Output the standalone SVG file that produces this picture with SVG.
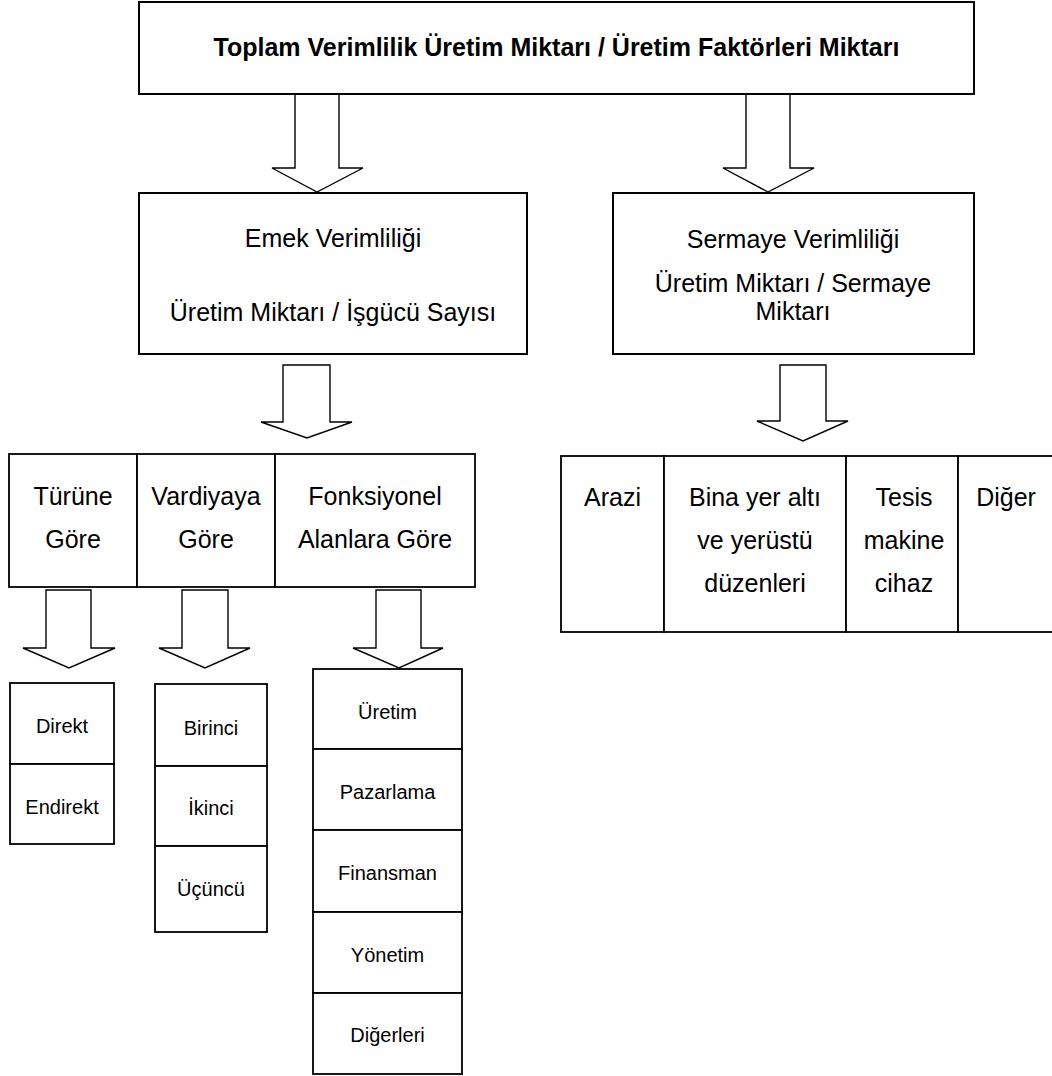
<svg xmlns="http://www.w3.org/2000/svg" width="1052" height="1076" viewBox="0 0 1052 1076">
<style>
.box{fill:#fff;stroke:#000;stroke-width:2}
.cell{fill:#fff;stroke:#000;stroke-width:1.8}
.arrow{fill:#fff;stroke:#000;stroke-width:1.4;stroke-linejoin:miter}
text{font-family:"Liberation Sans",Arial,sans-serif;fill:#000;text-anchor:middle}
.t1{font-size:25px;font-weight:bold}
.t2{font-size:25px}
.t3{font-size:20px}
</style>
<rect width="1052" height="1076" fill="#fff"/>
<g id="connectors">
<polygon class="arrow" points="295,94 295,168 272,168 317,192 363,168 339,168 339,94"/>
<polygon class="arrow" points="746,94 746,168 723,168 768,192 814,168 790,168 790,94"/>
<polygon class="arrow" points="283,365 283,422 261,422 307,438 352,422 330,422 330,365"/>
<polygon class="arrow" points="780,365 780,421 757,421 803,441 848,421 826,421 826,365"/>
<polygon class="arrow" points="46,590 46,648 23,648 69,668 115,648 91,648 91,590"/>
<polygon class="arrow" points="182,590 182,648 159,648 205,668 250,648 228,648 228,590"/>
<polygon class="arrow" points="376,590 376,648 353,648 399,668 443,648 421,648 421,590"/>
</g>
<g id="node-toplam">
<rect class="box" x="139" y="2" width="835" height="92"/>
<text class="t1" x="556.5" y="56">Toplam Verimlilik Üretim Miktarı / Üretim Faktörleri Miktarı</text>
</g>
<g id="node-emek">
<rect class="box" x="139" y="193" width="388" height="161"/>
<text class="t2" x="333" y="247">Emek Verimliliği</text>
<text class="t2" x="333" y="321">Üretim Miktarı / İşgücü Sayısı</text>
</g>
<g id="node-sermaye">
<rect class="box" x="613" y="193" width="361" height="161"/>
<text class="t2" x="793" y="248">Sermaye Verimliliği</text>
<text class="t2" x="793" y="292">Üretim Miktarı / Sermaye</text>
<text class="t2" x="793" y="320">Miktarı</text>
</g>
<g id="node-turune">
<rect class="cell" x="9" y="454" width="128" height="133"/>
<text class="t2" x="73" y="505">Türüne</text>
<text class="t2" x="73" y="548">Göre</text>
</g>
<g id="node-vardiyaya">
<rect class="cell" x="137" y="454" width="138" height="133"/>
<text class="t2" x="206" y="505">Vardiyaya</text>
<text class="t2" x="206" y="548">Göre</text>
</g>
<g id="node-fonksiyonel">
<rect class="cell" x="275" y="454" width="200" height="133"/>
<text class="t2" x="375" y="505">Fonksiyonel</text>
<text class="t2" x="375" y="548">Alanlara Göre</text>
</g>
<g id="node-arazi">
<rect class="cell" x="561" y="456" width="103" height="176"/>
<text class="t2" x="612.5" y="506">Arazi</text>
</g>
<g id="node-bina">
<rect class="cell" x="664" y="456" width="182" height="176"/>
<text class="t2" x="755" y="506">Bina yer altı</text>
<text class="t2" x="755" y="549">ve yerüstü</text>
<text class="t2" x="755" y="592">düzenleri</text>
</g>
<g id="node-tesis">
<rect class="cell" x="846" y="456" width="112" height="176"/>
<text class="t2" x="904" y="506">Tesis</text>
<text class="t2" x="904" y="549">makine</text>
<text class="t2" x="904" y="592">cihaz</text>
</g>
<g id="node-diger">
<rect class="cell" x="958" y="456" width="96" height="176"/>
<text class="t2" x="1006" y="506">Diğer</text>
</g>
<g id="node-direkt">
<rect class="cell" x="10" y="683" width="104" height="81"/>
<text class="t3" x="62" y="733">Direkt</text>
</g>
<g id="node-endirekt">
<rect class="cell" x="10" y="764" width="104" height="80"/>
<text class="t3" x="62" y="814">Endirekt</text>
</g>
<g id="node-birinci">
<rect class="cell" x="155" y="684" width="112" height="82"/>
<text class="t3" x="211" y="735">Birinci</text>
</g>
<g id="node-ikinci">
<rect class="cell" x="155" y="766" width="112" height="80"/>
<text class="t3" x="211" y="815">İkinci</text>
</g>
<g id="node-ucuncu">
<rect class="cell" x="155" y="846" width="112" height="86"/>
<text class="t3" x="211" y="896">Üçüncü</text>
</g>
<g id="node-uretim">
<rect class="cell" x="313" y="669" width="149" height="80"/>
<text class="t3" x="387.5" y="719">Üretim</text>
</g>
<g id="node-pazarlama">
<rect class="cell" x="313" y="749" width="149" height="81"/>
<text class="t3" x="387.5" y="799">Pazarlama</text>
</g>
<g id="node-finansman">
<rect class="cell" x="313" y="830" width="149" height="82"/>
<text class="t3" x="387.5" y="880">Finansman</text>
</g>
<g id="node-yonetim">
<rect class="cell" x="313" y="912" width="149" height="81"/>
<text class="t3" x="387.5" y="962">Yönetim</text>
</g>
<g id="node-digerleri">
<rect class="cell" x="313" y="993" width="149" height="81"/>
<text class="t3" x="387.5" y="1042">Diğerleri</text>
</g>
</svg>
